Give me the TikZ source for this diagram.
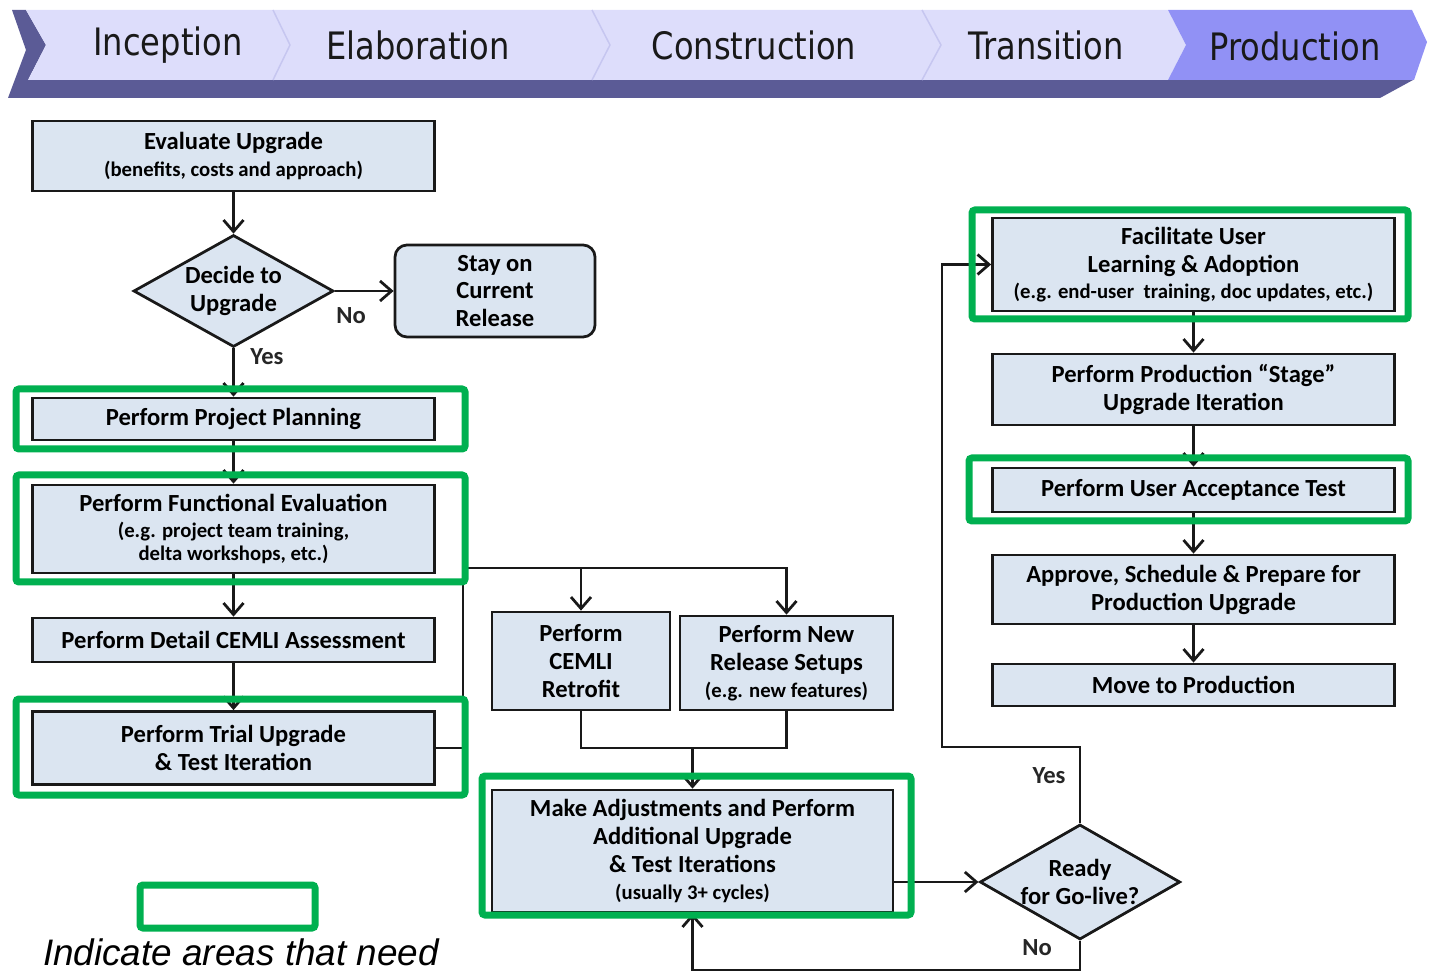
\documentclass[tikz,border=0pt]{standalone}
\usepackage{fontspec}
\setmainfont{Carlito}
\newfontfamily\bannerfont[FakeStretch=0.85]{DejaVu Sans}
\newfontfamily\notefont{Liberation Sans}
\usetikzlibrary{shapes.geometric,arrows.meta}
\definecolor{boxfill}{HTML}{DBE5F1}
\definecolor{hlgreen}{HTML}{00B050}
\definecolor{barlight}{HTML}{DDDDFB}
\definecolor{bardark}{HTML}{5B5B96}
\definecolor{barprod}{HTML}{9191F5}
\definecolor{barline}{HTML}{C6C6F0}
\newcommand{\smallnote}[1]{{\fontsize{11.8}{13}\selectfont #1}}
\tikzset{
  stepbox/.style={draw=black!90, line width=0.55mm, fill=boxfill, inner sep=0pt,
    align=center, font=\bfseries\fontsize{14}{15.9}\selectfont},
  decision/.style={stepbox, diamond, aspect=1.8},
  hl/.style={draw=hlgreen, line width=1.4mm, rounded corners=0.6mm},
  link/.style={line width=0.55mm, draw=black!90},
  flow/.style={link, -{Straight Barb[length=2.3mm,width=4mm,line width=0.55mm]}},
  phase/.style={font=\bannerfont\fontsize{21.5}{24}\selectfont, text=black!90},
  answer/.style={font=\bfseries\fontsize{14}{16}\selectfont, text=black!85},
}
\begin{document}
\begin{tikzpicture}[x=0.2mm,y=-0.2mm]
\useasboundingbox (0,0) rectangle (1429,976);
% phase banner
\fill[bardark] (12,10) -- (26,10) -- (46,45) -- (28,80) -- (1413,80) -- (1380,98) -- (8,98) -- (26,50) -- cycle;
\fill[barlight] (26,10) -- (1168,10) -- (1186,45) -- (1168,80) -- (28,80) -- (46,45) -- cycle;
\fill[barprod] (1168,10) -- (1412,10) -- (1427,42) -- (1414,80) -- (1168,80) -- (1186,45) -- cycle;
\draw[barline, line width=0.3mm] (273,10) -- (290,45) -- (273,80);
\draw[barline, line width=0.3mm] (592,10) -- (610,45) -- (592,80);
\draw[barline, line width=0.3mm] (922,10) -- (941,45) -- (922,80);
\node[phase] (inception) at (168,45) {Inception};
\node[phase] (elaboration) at (418,45) {Elaboration};
\node[phase] (construction) at (754,45) {Construction};
\node[phase] (transition) at (1046,45) {Transition};
\node[phase] (production) at (1295,46) {Production};

% left column
\node[stepbox, minimum width=80.4mm, minimum height=14mm] (eval) at (233.5,156)
  {Evaluate Upgrade\\[-0.8pt]\smallnote{(benefits, costs and approach)}};
\node[decision, minimum width=40mm, minimum height=22.4mm] (decide) at (233.5,291) {Decide to\\Upgrade};
\node[stepbox, rounded corners=2.4mm, minimum width=40mm, minimum height=18.4mm] (stay) at (495,291)
  {Stay on\\Current\\Release};
\node[stepbox, minimum width=80.4mm, minimum height=8.4mm] (plan) at (233.5,419) {Perform Project Planning};
\node[stepbox, minimum width=80.4mm, minimum height=17.6mm] (func) at (233.5,529)
  {Perform Functional Evaluation\\[-0.8pt]\smallnote{(e.g. project team training,}\\[-3pt]\smallnote{delta workshops, etc.)}};
\node[stepbox, minimum width=80.4mm, minimum height=8.8mm] (detail) at (233.5,640) {Perform Detail CEMLI Assessment};
\node[stepbox, minimum width=80.4mm, minimum height=14.6mm] (trial) at (233.5,748)
  {Perform Trial Upgrade\\\& Test Iteration};

% middle
\node[stepbox, minimum width=35.6mm, minimum height=19.6mm] (retro) at (581,661) {Perform\\CEMLI\\Retrofit};
\node[stepbox, minimum width=42.6mm, minimum height=18.8mm] (newrel) at (786.5,663)
  {Perform New\\Release Setups\\[-0.8pt]\smallnote{(e.g. new features)}};
\node[stepbox, minimum width=80.2mm, minimum height=24.4mm] (make) at (692.5,851)
  {Make Adjustments and Perform\\Additional Upgrade\\\& Test Iterations\\[-0.8pt]\smallnote{(usually 3+ cycles)}};
\node[decision, minimum width=40mm, minimum height=23mm] (ready) at (1080,882) {Ready\\for Go-live?};

% right column
\node[stepbox, minimum width=80.4mm, minimum height=18.6mm] (facil) at (1193.5,264.5)
  {Facilitate User\\Learning \& Adoption\\[-0.8pt]\smallnote{(e.g. end-user~~training, doc updates, etc.)}};
\node[stepbox, minimum width=80.4mm, minimum height=14.2mm] (stage) at (1193.5,389.5)
  {Perform Production “Stage”\\Upgrade Iteration};
\node[stepbox, minimum width=80.4mm, minimum height=8.8mm] (uat) at (1193.5,490) {Perform User Acceptance Test};
\node[stepbox, minimum width=80.4mm, minimum height=13.8mm] (approve) at (1193.5,589.5)
  {Approve, Schedule \& Prepare for\\Production Upgrade};
\node[stepbox, minimum width=80.4mm, minimum height=8.4mm] (move) at (1193.5,685) {Move to Production};

% connectors
\draw[flow] (eval) -- (decide);
\draw[flow] (decide) -- (stay);
\draw[flow] (decide) -- (plan);
\draw[flow] (plan) -- (func);
\draw[flow] (func) -- (detail);
\draw[flow] (detail) -- (trial);
\coordinate (fork) at (463,568);
\draw[flow] (trial.east) -| (fork) -| (newrel.north);
\draw[flow] (retro.north |- fork) -- (retro.north);
\coordinate (join) at (692.5,748);
\draw[link] (retro.south) |- (join) -| (newrel.south);
\draw[flow] (join) -- (make.north);
\draw[flow] (make.east |- ready) -- (ready.west);
\coordinate (yesbend) at (942,747);
\draw[flow] (ready.north) |- (yesbend) |- (facil.west);
\coordinate (nobend) at (692.5,970);
\draw[flow] (ready.south) |- (nobend) -- (make.south);
\draw[flow] (facil) -- (stage);
\draw[flow] (stage) -- (uat);
\draw[flow] (uat) -- (approve);
\draw[flow] (approve) -- (move);
\node[answer] (decideno) at (351,316) {No};
\node[answer] (decideyes) at (267,357) {Yes};
\node[answer] (readyyes) at (1049,776) {Yes};
\node[answer] (readyno) at (1037,948) {No};

% highlighted areas
\draw[hl] (16,389) rectangle (465,449);
\draw[hl] (16,475) rectangle (465,582);
\draw[hl] (16,699) rectangle (465,795);
\draw[hl] (482,776) rectangle (911,915);
\draw[hl] (972,210) rectangle (1408,319);
\draw[hl] (969,458) rectangle (1408,521);
\draw[hl] (140,885) rectangle (315,928);
\node[font=\notefont\itshape\fontsize{21}{24}\selectfont] (legend) at (241,952) {Indicate areas that need};
\end{tikzpicture}
\end{document}
